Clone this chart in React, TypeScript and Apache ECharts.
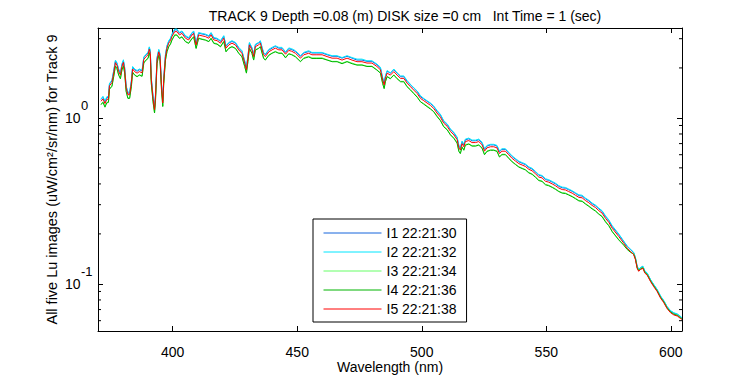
import React, { useEffect, useRef } from "react";
import * as echarts from "echarts";

const TITLE = "TRACK 9 Depth =0.08 (m) DISK size =0 cm   Int Time = 1 (sec)";
const X_NAME = "Wavelength (nm)";
const Y_NAME = "All five Lu images (uW/cm²/sr/nm) for Track 9";
const NAMES = ["I1 22:21:30", "I2 22:21:32", "I3 22:21:34", "I4 22:21:36", "I5 22:21:38"];
const COLORS = ["#1464dc", "#00e6ff", "#66ff66", "#00b400", "#ff0000"];
const X_MIN = 370;
const X_MAX = 604.5;
const Y_MIN = 0.052;
const Y_MAX = 3.48;
const MINOR_TICKS = [0.06, 0.07, 0.08, 0.09, 0.2, 0.3, 0.4, 0.5, 0.6, 0.7, 0.8, 0.9, 2, 3];

const WL = [
  371.2, 372.0, 372.8, 373.5, 374.2, 374.6, 375.6, 376.3, 377.0, 377.6, 378.3, 379.0, 379.6, 380.2, 380.7,
  381.3, 382.0, 382.7, 383.4, 383.9, 384.7, 385.7, 386.6, 387.7, 388.4, 389.3, 390.1, 390.6, 391.0, 391.4,
  392.1, 392.7, 393.1, 393.7, 394.4, 394.9, 395.5, 396.0, 396.4, 397.1, 397.7, 398.4, 399.1, 399.7, 400.8,
  401.7, 402.7, 403.7, 405.1, 406.4, 407.8, 408.4, 409.4, 410.4, 411.8, 413.1, 414.5, 415.4, 416.5, 417.8,
  419.2, 420.5, 421.4, 422.5, 423.8, 425.2, 426.5, 427.8, 428.9, 429.6, 430.2, 430.8, 431.8, 432.5, 433.2,
  434.5, 435.2, 435.9, 436.5, 437.2, 438.6, 439.9, 441.2, 442.6, 443.9, 445.3, 446.6, 447.8, 449.3, 451.3,
  452.6, 454.6, 455.9, 457.9, 460.0, 462.0, 464.0, 466.0, 468.0, 470.0, 472.0, 474.0, 476.0, 478.0, 480.0,
  482.0, 483.4, 484.3, 484.9, 485.4, 486.1, 487.4, 488.8, 490.1, 491.5, 492.8, 494.1, 495.5, 496.8, 498.2,
  499.5, 500.8, 502.1, 503.5, 504.8, 506.1, 507.5, 508.8, 510.2, 511.5, 512.9, 514.2, 514.9, 515.5, 516.2,
  516.9, 517.5, 518.9, 520.2, 521.6, 522.9, 524.2, 525.2, 526.2, 527.6, 528.9, 530.2, 531.2, 532.2, 533.6,
  534.9, 536.3, 537.6, 539.0, 540.3, 541.6, 543.0, 544.3, 545.7, 547.0, 548.3, 549.7, 551.0, 552.4, 553.7,
  555.0, 556.4, 557.7, 559.0, 560.4, 561.7, 563.1, 564.4, 565.7, 567.1, 568.4, 569.8, 571.1, 572.4, 573.8,
  575.1, 576.5, 579.1, 581.1, 582.5, 583.8, 585.1, 585.8, 586.5, 587.1, 587.8, 588.8, 589.6, 590.5, 591.9,
  593.2, 594.5, 595.9, 597.2, 598.5, 599.9, 601.2, 602.6, 603.8, 604.4,
];

const I5 = [
  1.26, 1.30, 1.22, 1.29, 1.30, 1.56, 1.63, 1.86, 2.15, 2.08, 1.90, 1.81, 2.04, 2.16, 1.95,
  1.51, 1.38, 1.38, 1.62, 1.97, 1.90, 1.86, 1.90, 1.87, 2.25, 2.34, 2.40, 2.59, 2.45, 1.69,
  1.31, 1.12, 1.34, 2.23, 2.50, 2.34, 1.54, 1.23, 1.69, 2.34, 2.63, 2.82, 2.92, 3.09, 3.31,
  3.31, 3.16, 3.23, 3.02, 2.95, 3.16, 3.23, 2.75, 3.16, 3.12, 3.09, 3.02, 3.16, 2.95, 2.92,
  2.82, 3.02, 2.63, 2.75, 2.82, 2.75, 2.57, 2.45, 2.14, 1.95, 2.29, 2.75, 2.57, 2.34, 2.69,
  2.75, 2.82, 2.57, 2.40, 2.34, 2.50, 2.57, 2.63, 2.57, 2.57, 2.42, 2.55, 2.52, 2.45, 2.29,
  2.40, 2.45, 2.40, 2.40, 2.40, 2.34, 2.29, 2.29, 2.23, 2.29, 2.23, 2.18, 2.18, 2.14, 2.14,
  2.04, 1.95, 1.69, 1.58, 1.73, 1.86, 1.81, 1.90, 1.81, 1.73, 1.73, 1.62, 1.54, 1.47, 1.40,
  1.31, 1.27, 1.23, 1.19, 1.14, 1.07, 1.01, 0.93, 0.89, 0.83, 0.79, 0.74, 0.66, 0.64, 0.70,
  0.67, 0.72, 0.73, 0.71, 0.71, 0.72, 0.69, 0.63, 0.66, 0.67, 0.67, 0.66, 0.61, 0.63, 0.63,
  0.60, 0.57, 0.55, 0.53, 0.52, 0.51, 0.49, 0.48, 0.46, 0.44, 0.435, 0.415, 0.41, 0.40, 0.39,
  0.378, 0.37, 0.368, 0.36, 0.352, 0.342, 0.332, 0.33, 0.318, 0.308, 0.297, 0.288, 0.276, 0.267, 0.248,
  0.235, 0.216, 0.193, 0.176, 0.164, 0.157, 0.150, 0.140, 0.124, 0.119, 0.122, 0.124, 0.116, 0.113, 0.103,
  0.096, 0.090, 0.082, 0.077, 0.071, 0.067, 0.065, 0.064, 0.062, 0.061,
];

const I2 = [
  1.30, 1.35, 1.26, 1.34, 1.35, 1.61, 1.69, 1.93, 2.23, 2.15, 1.97, 1.87, 2.11, 2.24, 2.02,
  1.56, 1.43, 1.43, 1.68, 2.04, 1.97, 1.93, 1.97, 1.94, 2.33, 2.42, 2.48, 2.68, 2.54, 1.75,
  1.36, 1.16, 1.39, 2.31, 2.59, 2.42, 1.59, 1.27, 1.75, 2.42, 2.72, 2.92, 3.02, 3.20, 3.43,
  3.43, 3.27, 3.34, 3.13, 3.05, 3.27, 3.34, 2.85, 3.27, 3.23, 3.20, 3.13, 3.27, 3.05, 3.02,
  2.92, 3.13, 2.72, 2.85, 2.92, 2.85, 2.66, 2.54, 2.21, 2.02, 2.37, 2.85, 2.66, 2.42, 2.78,
  2.85, 2.92, 2.66, 2.48, 2.42, 2.59, 2.66, 2.72, 2.66, 2.66, 2.50, 2.64, 2.61, 2.54, 2.37,
  2.48, 2.54, 2.48, 2.48, 2.48, 2.42, 2.37, 2.37, 2.31, 2.37, 2.31, 2.26, 2.26, 2.21, 2.21,
  2.11, 2.02, 1.75, 1.64, 1.79, 1.93, 1.87, 1.97, 1.87, 1.79, 1.79, 1.68, 1.59, 1.52, 1.45,
  1.36, 1.31, 1.27, 1.23, 1.18, 1.11, 1.05, 0.963, 0.921, 0.859, 0.818, 0.766, 0.683, 0.662, 0.725,
  0.693, 0.745, 0.756, 0.735, 0.735, 0.745, 0.714, 0.652, 0.683, 0.693, 0.693, 0.683, 0.631, 0.652, 0.652,
  0.621, 0.590, 0.569, 0.549, 0.538, 0.528, 0.507, 0.497, 0.476, 0.455, 0.450, 0.430, 0.424, 0.414, 0.404,
  0.391, 0.383, 0.381, 0.373, 0.364, 0.354, 0.344, 0.342, 0.329, 0.319, 0.307, 0.298, 0.286, 0.276, 0.257,
  0.243, 0.224, 0.200, 0.181, 0.169, 0.162, 0.155, 0.144, 0.128, 0.1225, 0.1255, 0.128, 0.1195, 0.1165, 0.106,
  0.099, 0.0927, 0.0845, 0.0793, 0.0731, 0.069, 0.067, 0.0659, 0.0639, 0.0628,
];

const I1 = [
  1.29, 1.33, 1.25, 1.32, 1.33, 1.60, 1.67, 1.91, 2.20, 2.13, 1.95, 1.86, 2.09, 2.21, 2.00,
  1.55, 1.41, 1.41, 1.66, 2.02, 1.95, 1.91, 1.95, 1.92, 2.31, 2.40, 2.46, 2.65, 2.51, 1.73,
  1.34, 1.15, 1.37, 2.29, 2.56, 2.40, 1.58, 1.26, 1.73, 2.40, 2.70, 2.89, 2.99, 3.17, 3.39,
  3.39, 3.24, 3.31, 3.10, 3.02, 3.24, 3.31, 2.82, 3.24, 3.20, 3.17, 3.10, 3.24, 3.02, 2.99,
  2.89, 3.10, 2.70, 2.82, 2.89, 2.82, 2.63, 2.51, 2.19, 2.00, 2.35, 2.82, 2.63, 2.40, 2.76,
  2.82, 2.89, 2.63, 2.46, 2.40, 2.56, 2.63, 2.70, 2.63, 2.63, 2.48, 2.61, 2.58, 2.51, 2.35,
  2.46, 2.51, 2.46, 2.46, 2.46, 2.40, 2.35, 2.35, 2.29, 2.35, 2.29, 2.23, 2.23, 2.19, 2.19,
  2.09, 2.00, 1.73, 1.62, 1.77, 1.91, 1.86, 1.95, 1.86, 1.77, 1.77, 1.66, 1.58, 1.51, 1.44,
  1.34, 1.30, 1.26, 1.22, 1.17, 1.10, 1.04, 0.953, 0.912, 0.851, 0.810, 0.759, 0.677, 0.656, 0.718,
  0.687, 0.738, 0.748, 0.728, 0.728, 0.738, 0.707, 0.646, 0.677, 0.687, 0.687, 0.677, 0.625, 0.646, 0.646,
  0.615, 0.584, 0.564, 0.543, 0.533, 0.523, 0.502, 0.492, 0.472, 0.451, 0.446, 0.425, 0.420, 0.410, 0.400,
  0.387, 0.379, 0.377, 0.369, 0.361, 0.351, 0.340, 0.338, 0.326, 0.316, 0.304, 0.295, 0.283, 0.274, 0.254,
  0.241, 0.221, 0.198, 0.180, 0.168, 0.161, 0.154, 0.1435, 0.127, 0.122, 0.125, 0.127, 0.119, 0.116, 0.1055,
  0.0985, 0.0923, 0.0841, 0.0789, 0.0728, 0.0687, 0.0666, 0.0656, 0.0636, 0.0625,
];

const I3 = [
  1.21, 1.25, 1.17, 1.24, 1.25, 1.49, 1.56, 1.78, 2.06, 1.99, 1.82, 1.73, 1.95, 2.07, 1.87,
  1.45, 1.32, 1.32, 1.55, 1.89, 1.82, 1.78, 1.82, 1.79, 2.16, 2.24, 2.30, 2.48, 2.35, 1.62,
  1.25, 1.07, 1.28, 2.14, 2.40, 2.24, 1.48, 1.18, 1.62, 2.24, 2.52, 2.70, 2.80, 2.96, 3.17,
  3.17, 3.03, 3.09, 2.89, 2.83, 3.03, 3.09, 2.63, 3.03, 2.99, 2.96, 2.89, 3.03, 2.83, 2.80,
  2.70, 2.89, 2.52, 2.63, 2.70, 2.63, 2.46, 2.35, 2.05, 1.87, 2.19, 2.63, 2.46, 2.24, 2.58,
  2.63, 2.70, 2.46, 2.30, 2.24, 2.40, 2.46, 2.52, 2.46, 2.46, 2.32, 2.44, 2.41, 2.35, 2.19,
  2.30, 2.35, 2.30, 2.30, 2.30, 2.24, 2.19, 2.19, 2.14, 2.19, 2.14, 2.09, 2.09, 2.05, 2.05,
  1.95, 1.87, 1.62, 1.51, 1.66, 1.78, 1.73, 1.82, 1.73, 1.66, 1.66, 1.55, 1.48, 1.41, 1.34,
  1.25, 1.22, 1.18, 1.14, 1.09, 1.03, 0.968, 0.891, 0.853, 0.795, 0.757, 0.709, 0.632, 0.613, 0.671,
  0.642, 0.690, 0.699, 0.680, 0.680, 0.690, 0.661, 0.604, 0.632, 0.642, 0.642, 0.632, 0.584, 0.604, 0.604,
  0.575, 0.546, 0.527, 0.508, 0.498, 0.489, 0.469, 0.460, 0.441, 0.422, 0.417, 0.398, 0.393, 0.383, 0.374,
  0.362, 0.354, 0.353, 0.345, 0.337, 0.328, 0.318, 0.316, 0.305, 0.295, 0.285, 0.276, 0.264, 0.256, 0.238,
  0.225, 0.207, 0.185, 0.172, 0.162, 0.156, 0.152, 0.142, 0.1255, 0.1205, 0.1235, 0.1255, 0.1175, 0.1145, 0.1045,
  0.0972, 0.0911, 0.083, 0.078, 0.0719, 0.0678, 0.0658, 0.0648, 0.0628, 0.0617,
];

const I4 = [
  1.20, 1.24, 1.16, 1.23, 1.24, 1.49, 1.55, 1.77, 2.05, 1.98, 1.81, 1.72, 1.94, 2.06, 1.86,
  1.44, 1.31, 1.31, 1.54, 1.88, 1.81, 1.77, 1.81, 1.78, 2.14, 2.23, 2.28, 2.47, 2.33, 1.61,
  1.25, 1.07, 1.28, 2.12, 2.38, 2.23, 1.47, 1.17, 1.61, 2.23, 2.50, 2.68, 2.78, 2.94, 3.15,
  3.15, 3.01, 3.07, 2.88, 2.81, 3.01, 3.07, 2.62, 3.01, 2.97, 2.94, 2.88, 3.01, 2.81, 2.78,
  2.68, 2.88, 2.50, 2.62, 2.68, 2.62, 2.45, 2.33, 2.04, 1.86, 2.18, 2.62, 2.45, 2.23, 2.56,
  2.62, 2.68, 2.45, 2.28, 2.23, 2.38, 2.45, 2.50, 2.45, 2.45, 2.30, 2.43, 2.40, 2.33, 2.18,
  2.28, 2.33, 2.28, 2.28, 2.28, 2.23, 2.18, 2.18, 2.12, 2.18, 2.12, 2.08, 2.08, 2.04, 2.04,
  1.94, 1.86, 1.61, 1.50, 1.65, 1.77, 1.72, 1.81, 1.72, 1.65, 1.65, 1.54, 1.47, 1.40, 1.33,
  1.25, 1.21, 1.17, 1.13, 1.09, 1.02, 0.962, 0.885, 0.847, 0.790, 0.752, 0.704, 0.628, 0.609, 0.666,
  0.638, 0.685, 0.695, 0.676, 0.676, 0.685, 0.657, 0.600, 0.628, 0.638, 0.638, 0.628, 0.581, 0.600, 0.600,
  0.571, 0.543, 0.524, 0.505, 0.495, 0.486, 0.466, 0.457, 0.438, 0.419, 0.414, 0.395, 0.390, 0.381, 0.371,
  0.360, 0.352, 0.350, 0.343, 0.335, 0.326, 0.316, 0.314, 0.303, 0.293, 0.283, 0.274, 0.263, 0.254, 0.236,
  0.224, 0.206, 0.184, 0.171, 0.161, 0.155, 0.151, 0.1415, 0.125, 0.120, 0.123, 0.125, 0.117, 0.114, 0.104,
  0.097, 0.0909, 0.0828, 0.0778, 0.0717, 0.0677, 0.0657, 0.0646, 0.0626, 0.0616,
];

const SERIES_VALUES = [I1, I2, I3, I4, I5];

const FONT = "'Liberation Sans', Arial, sans-serif";

export default function App() {
  const ref = useRef<HTMLDivElement>(null);
  useEffect(() => {
    if (!ref.current) return;
    const chart = echarts.init(ref.current, undefined, { renderer: "svg" });
    const decadeLabel = (v: number) => {
      const l = Math.log10(v);
      const e = Math.round(l);
      if (Math.abs(l - e) > 1e-6) return "";
      return "{s|" + e + "}\n{b|10}\n{e| }";
    };
    const lineSeries = NAMES.map((name, k) => ({
      name,
      type: "line",
      xAxisIndex: 0,
      yAxisIndex: 0,
      data: WL.map((w, i) => [w, SERIES_VALUES[k][i]]),
      showSymbol: false,
      symbol: "none",
      lineStyle: { width: 1, color: COLORS[k] },
      itemStyle: { color: COLORS[k] },
      z: 2 + k,
    }));
    const minorSeries = {
      type: "custom",
      name: "minor",
      xAxisIndex: 0,
      yAxisIndex: 0,
      silent: true,
      z: 10,
      data: MINOR_TICKS.map((v) => [X_MIN, v]),
      renderItem: (params: any, api: any) => {
        const cs = params.coordSys;
        const y = api.coord([X_MIN, api.value(1)])[1];
        const style = { stroke: "#000", lineWidth: 1 };
        return {
          type: "group",
          children: [
            { type: "line", shape: { x1: cs.x, y1: y, x2: cs.x + 3, y2: y }, style },
            { type: "line", shape: { x1: cs.x + cs.width - 3, y1: y, x2: cs.x + cs.width, y2: y }, style },
          ],
        };
      },
    };
    chart.setOption({
      animation: false,
      backgroundColor: "#ffffff",
      textStyle: { fontFamily: FONT },
      title: {
        text: TITLE,
        left: 400,
        textAlign: "center",
        top: 4,
        textStyle: { fontFamily: FONT, fontSize: 14, fontWeight: "normal", color: "#000" },
      },
      grid: { left: 98, top: 28, right: 68, bottom: 44, containLabel: false, outerBoundsMode: "none" },
      legend: {
        data: NAMES,
        orient: "vertical",
        left: 313,
        top: 219,
        width: 154,
        padding: [7, 10, 6, 10],
        itemWidth: 58,
        itemHeight: 14,
        itemGap: 5,
        itemStyle: { opacity: 0 },
        lineStyle: { width: 1 },
        backgroundColor: "#fff",
        borderColor: "#000",
        borderWidth: 1,
        borderRadius: 0,
        textStyle: { fontFamily: FONT, fontSize: 14, color: "#000" },
      },
      xAxis: [
        {
          type: "value",
          min: X_MIN,
          max: X_MAX,
          splitNumber: 5,
          position: "bottom",
          name: X_NAME,
          nameLocation: "middle",
          nameGap: 29,
          nameMoveOverlap: false,
          nameTextStyle: { fontFamily: FONT, fontSize: 14, color: "#000" },
          axisLine: { show: true, onZero: false, lineStyle: { color: "#000", width: 1 } },
          axisTick: { show: true, inside: true, length: 5, lineStyle: { color: "#000" } },
          axisLabel: { show: true, showMinLabel: false, showMaxLabel: false, margin: 14, color: "#000", fontFamily: FONT, fontSize: 14 },
          splitLine: { show: false },
        },
        {
          type: "value",
          min: X_MIN,
          max: X_MAX,
          splitNumber: 5,
          position: "top",
          axisLine: { show: true, onZero: false, lineStyle: { color: "#000", width: 1 } },
          axisTick: { show: true, inside: true, length: 5, lineStyle: { color: "#000" } },
          axisLabel: { show: false },
          splitLine: { show: false },
        },
      ],
      yAxis: [
        {
          type: "log",
          logBase: 10,
          min: Y_MIN,
          max: Y_MAX,
          position: "left",
          name: Y_NAME,
          nameLocation: "middle",
          nameGap: 39,
          nameMoveOverlap: false,
          nameTextStyle: { fontFamily: FONT, fontSize: 14.5, color: "#000" },
          axisLine: { show: true, onZero: false, lineStyle: { color: "#000", width: 1 } },
          axisTick: { show: true, inside: true, length: 5, lineStyle: { color: "#000" } },
          axisLabel: {
            show: true,
            margin: 33,
            align: "left",
            formatter: decadeLabel,
            rich: {
              b: { fontFamily: FONT, fontSize: 14, color: "#000", lineHeight: 14, align: "left" },
              s: { fontFamily: FONT, fontSize: 13, color: "#000", lineHeight: 11, align: "left", padding: [0, 0, 0, 16] },
              e: { fontSize: 11, lineHeight: 11 },
            },
          },
          splitLine: { show: false },
        },
        {
          type: "log",
          logBase: 10,
          min: Y_MIN,
          max: Y_MAX,
          position: "right",
          axisLine: { show: true, onZero: false, lineStyle: { color: "#000", width: 1 } },
          axisTick: { show: true, inside: true, length: 5, lineStyle: { color: "#000" } },
          axisLabel: { show: false },
          splitLine: { show: false },
        },
      ],
      series: [...lineSeries, minorSeries],
    });
    return () => chart.dispose();
  }, []);
  return (
    <div
      ref={ref}
      style={{ position: "fixed", left: 0, top: 0, width: 750, height: 375, background: "#fff" }}
    />
  );
}
